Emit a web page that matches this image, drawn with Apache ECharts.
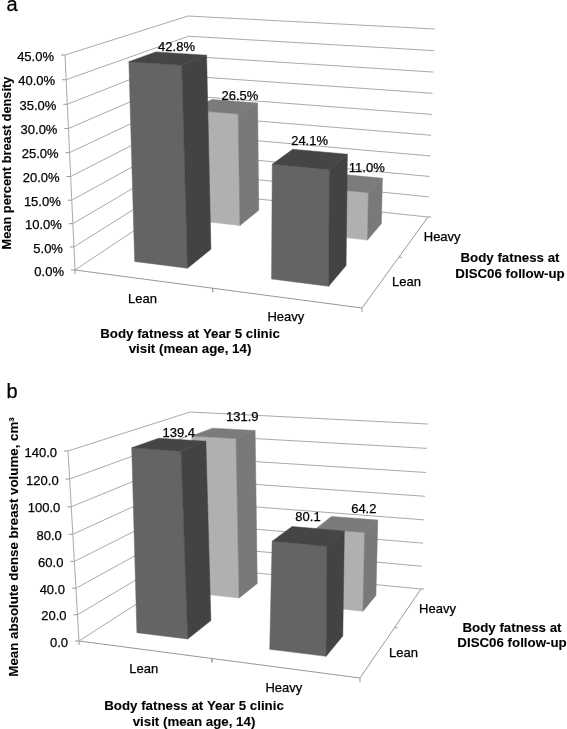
<!DOCTYPE html>
<html>
<head>
<meta charset="utf-8">
<title>Body fatness and breast density</title>
<script src="https://cdn.jsdelivr.net/npm/echarts@6/dist/echarts.min.js"></script>
<style>
    html, body { margin: 0; padding: 0; background: #fff; }
    #main { width: 567px; height: 729px; }
</style>
</head>
<body>
<div id="main"></div>
<script>
// data
var year5Categories = ['Lean', 'Heavy'];
var discCategories = ['Lean', 'Heavy'];

var densityLeanDisc = [42.8, 24.1];
var densityHeavyDisc = [26.5, 11.0];
var densityTicks = [0, 5, 10, 15, 20, 25, 30, 35, 40, 45];

var volumeLeanDisc = [139.4, 80.1];
var volumeHeavyDisc = [131.9, 64.2];
var volumeTicks = [0, 20, 40, 60, 80, 100, 120, 140];

var FONT = '"Liberation Sans", Arial, sans-serif';

// unit square -> quad, order: front left, front right, back right, back left
function makeHomography(q) {
    var dx1 = q[1][0] - q[2][0], dx2 = q[3][0] - q[2][0], sx = q[0][0] - q[1][0] + q[2][0] - q[3][0];
    var dy1 = q[1][1] - q[2][1], dy2 = q[3][1] - q[2][1], sy = q[0][1] - q[1][1] + q[2][1] - q[3][1];
    var det = dx1 * dy2 - dx2 * dy1;
    var g = (sx * dy2 - dx2 * sy) / det;
    var h = (dx1 * sy - sx * dy1) / det;
    return {
        a: q[1][0] - q[0][0] + g * q[1][0], b: q[3][0] - q[0][0] + h * q[3][0], c: q[0][0],
        d: q[1][1] - q[0][1] + g * q[1][1], e: q[3][1] - q[0][1] + h * q[3][1], f: q[0][1],
        g: g, h: h
    };
}

function applyHomography(m, u, v) {
    var n = m.g * u + m.h * v + 1;
    return [(m.a * u + m.b * v + m.c) / n, (m.d * u + m.e * v + m.f) / n];
}

var panelA = {
    floor: makeHomography([[75, 270], [362, 308], [428, 217], [192, 192]]),
    top: makeHomography([[65, 55], [366, 76], [435, 29], [188, 16]]),
    grid: { left: 75, top: 55, width: 287, height: 215 },
    ticks: densityTicks,
    max: 45,
    suffix: '%',
    rows: [densityLeanDisc, densityHeavyDisc],
    // [depth][category]
    labelOffsets: [[[9, -11], [0, -18]], [[16, -10], [17, -14]]],
    leftEdgeFix: 0.006,
    tickLabelGap: 11,
    frontLabelOffset: [0, 20],
    sideLabelOffsets: [[25, 1], [28, 1]],
    letter: { text: 'a', x: 12, y: 5 },
    yName: { text: 'Mean percent breast density', x: 7, y: 163, size: 12.8 },
    xName: { text: 'Body fatness at Year 5 clinic\nvisit (mean age, 14)', x: 190, y: 342 },
    zName: { text: 'Body fatness at\nDISC06 follow-up', x: 510, y: 266.5 }
};

var panelB = {
    floor: makeHomography([[79, 641], [360, 678], [421, 589], [194, 567]]),
    top: makeHomography([[68, 451], [365, 473], [428, 424], [190, 412]]),
    grid: { left: 79, top: 451, width: 281, height: 190 },
    ticks: volumeTicks,
    max: 140,
    suffix: '',
    rows: [volumeLeanDisc, volumeHeavyDisc],
    labelOffsets: [[[11, -11], [1, -18]], [[20, -16], [18, -15]]],
    leftEdgeFix: 0.013,
    tickLabelGap: 11,
    frontLabelOffset: [0, 20],
    sideLabelOffsets: [[25, 2], [29, 2]],
    letter: { text: 'b', x: 12, y: 392 },
    yName: { text: 'Mean absolute dense breast volume, cm\u00b3', x: 14, y: 547, size: 13.3 },
    xName: { text: 'Body fatness at Year 5 clinic\nvisit (mean age, 14)', x: 194, y: 714.5 },
    zName: { text: 'Body fatness at\nDISC06 follow-up', x: 512, y: 636 }
};

var panels = [panelA, panelB];

var BAR_U = 0.395;     // bar width as part of a category band
var BAR_V = 0.42;      // bar depth as part of a depth band
var VERTICAL_S = 1.04; // slight perspective on the value direction

var COLORS = [
    { front: '#646464', side: '#434343', top: '#454545' },
    { front: '#b0b0b0', side: '#797979', top: '#7b7b7b' }
];

function project(panel, u, v, w) {
    var a = applyHomography(panel.floor, u, v);
    var b = applyHomography(panel.top, u, v);
    var t = w / (w + VERTICAL_S * (1 - w));
    return [a[0] + (b[0] - a[0]) * t, a[1] + (b[1] - a[1]) * t];
}

// position of an axis value inside the hidden grid, 0..1
function toUnit(params, api, cat, val) {
    var cs = params.coordSys;
    var c = api.coord([cat, val]);
    return [(c[0] - cs.x) / cs.width, (cs.y + cs.height - c[1]) / cs.height];
}

function line(a, b, color, width) {
    return {
        type: 'line',
        shape: { x1: a[0], y1: a[1], x2: b[0], y2: b[1] },
        style: { stroke: color, lineWidth: width || 1, fill: null }
    };
}

function poly(points, color) {
    return {
        type: 'polygon',
        shape: { points: points },
        style: { fill: color, stroke: color, lineWidth: 0.5 }
    };
}

function text(str, p, size, align, bold) {
    return {
        type: 'text',
        x: p[0],
        y: p[1],
        style: {
            text: str,
            fill: '#000',
            stroke: '#000',
            lineWidth: bold ? 0.1 : 0.25,
            font: (bold ? 'bold ' : '') + size + 'px ' + FONT,
            lineHeight: 15.5,
            align: align || 'center',
            verticalAlign: 'middle'
        }
    };
}

// walls, value axis and its labels, one item per tick
function renderTick(panel) {
    return function (params, api) {
        var tick = api.value(1);
        var w = toUnit(params, api, 0, tick)[1];
        var front = project(panel, 0, 0, w);
        var backLeft = project(panel, 0, 1, w);
        var backRight = project(panel, 1, 1, w);
        var kids = [
            line(front, backLeft, '#aaa'),
            line(backLeft, backRight, '#aaa'),
            line(front, [front[0] - 4, front[1]], '#999'),
            text(tick.toFixed(1) + panel.suffix, [front[0] - panel.tickLabelGap, front[1] + 2], 13, 'right')
        ];
        return { type: 'group', children: kids };
    };
}

// floor edges and category labels, one item per category
function renderFloor(panel) {
    return function (params, api) {
        var i = api.value(0);
        var kids = [];
        var gap = 0.5;
        var f0 = project(panel, i * gap, 0, 0), f1 = project(panel, (i + 1) * gap, 0, 0);
        var s0 = project(panel, 1, i * gap, 0), s1 = project(panel, 1, (i + 1) * gap, 0);
        kids.push(line(f0, f1, '#999'));
        kids.push(line(s0, s1, '#999'));
        kids.push(line(f0, [f0[0], f0[1] + 4], '#999'));
        kids.push(line(f1, [f1[0], f1[1] + 4], '#999'));
        kids.push(line(s1, [s1[0] + 3, s1[1]], '#999'));
        // left axis, drawn from the floor tick up to the top of the wall
        if (i === 0) {
            kids.push(line(project(panel, 0, 0, 0), project(panel, 0, 0, 1), '#aaa'));
        }
        var fc = project(panel, (i + 0.5) * gap, 0, 0);
        var sc = project(panel, 1, (i + 0.5) * gap, 0);
        var so = panel.sideLabelOffsets[i];
        kids.push(text(year5Categories[i], [fc[0] + panel.frontLabelOffset[0], fc[1] + panel.frontLabelOffset[1]], 13));
        kids.push(text(discCategories[i], [sc[0] + so[0], sc[1] + so[1]], 13));
        return { type: 'group', children: kids };
    };
}

function renderBar(panel, depth) {
    return function (params, api) {
        var cat = api.value(0);
        var unit = toUnit(params, api, cat, api.value(1));
        var band = api.size([1, 0])[0] / params.coordSys.width;
        var u0 = unit[0] - band * BAR_U / 2, u1 = unit[0] + band * BAR_U / 2;
        var vc = (depth + 0.5) / 2;
        var v0 = vc - 0.5 * BAR_V / 2, v1 = vc + 0.5 * BAR_V / 2;
        var w = unit[1];
        var c = COLORS[depth];
        var p = function (a, b, h) { return project(panel, a, b, h); };
        // the left edge leans a little less than the wall does
        var uTop = u0 + panel.leftEdgeFix;
        return {
            type: 'group',
            children: [
                poly([p(u0, v0, 0), p(u1, v0, 0), p(u1, v0, w), p(uTop, v0, w)], c.front),
                poly([p(u1, v0, 0), p(u1, v1, 0), p(u1, v1, w), p(u1, v0, w)], c.side),
                poly([p(uTop, v0, w), p(u1, v0, w), p(u1, v1, w), p(uTop, v1, w)], c.top)
            ]
        };
    };
}

function renderBarLabel(panel, depth) {
    return function (params, api) {
        var cat = api.value(0);
        var val = api.value(1);
        var unit = toUnit(params, api, cat, val);
        var mid = project(panel, unit[0], (depth + 0.5) / 2, unit[1]);
        var off = panel.labelOffsets[depth][cat];
        return text(val.toFixed(1) + panel.suffix, [mid[0] + off[0], mid[1] + off[1]], 13);
    };
}

function barData(values) {
    return values.map(function (v, i) { return [i, v]; });
}

var grids = [], xAxes = [], yAxes = [], series = [], graphics = [];

panels.forEach(function (panel, idx) {
    grids.push(panel.grid);
    xAxes.push({ type: 'category', gridIndex: idx, data: year5Categories, show: false });
    yAxes.push({ type: 'value', gridIndex: idx, min: 0, max: panel.max, show: false });

    var common = { type: 'custom', xAxisIndex: idx, yAxisIndex: idx, silent: true, encode: { x: 0, y: 1 } };

    series.push(Object.assign({}, common, {
        z: 1,
        renderItem: renderTick(panel),
        data: panel.ticks.map(function (t) { return [0, t]; })
    }));
    series.push(Object.assign({}, common, {
        z: 1,
        renderItem: renderFloor(panel),
        data: year5Categories.map(function (c, i) { return [i, 0]; })
    }));
    // back row first so the front row covers it
    series.push(Object.assign({}, common, { z: 2, renderItem: renderBar(panel, 1), data: barData(panel.rows[1]) }));
    series.push(Object.assign({}, common, { z: 3, renderItem: renderBar(panel, 0), data: barData(panel.rows[0]) }));
    series.push(Object.assign({}, common, { z: 4, renderItem: renderBarLabel(panel, 1), data: barData(panel.rows[1]) }));
    series.push(Object.assign({}, common, { z: 4, renderItem: renderBarLabel(panel, 0), data: barData(panel.rows[0]) }));

    graphics.push(text(panel.letter.text, [panel.letter.x, panel.letter.y], 20));
    var yName = text(panel.yName.text, [panel.yName.x, panel.yName.y], panel.yName.size, 'center', true);
    yName.rotation = Math.PI / 2;
    graphics.push(yName);
    graphics.push(text(panel.xName.text, [panel.xName.x, panel.xName.y], 13.3, 'center', true));
    graphics.push(text(panel.zName.text, [panel.zName.x, panel.zName.y], 13.3, 'center', true));
});

var myChart = echarts.init(document.getElementById('main'));
myChart.setOption({
    animation: false,
    backgroundColor: '#fff',
    grid: grids,
    xAxis: xAxes,
    yAxis: yAxes,
    graphic: { elements: graphics },
    series: series
});
</script>
</body>
</html>
